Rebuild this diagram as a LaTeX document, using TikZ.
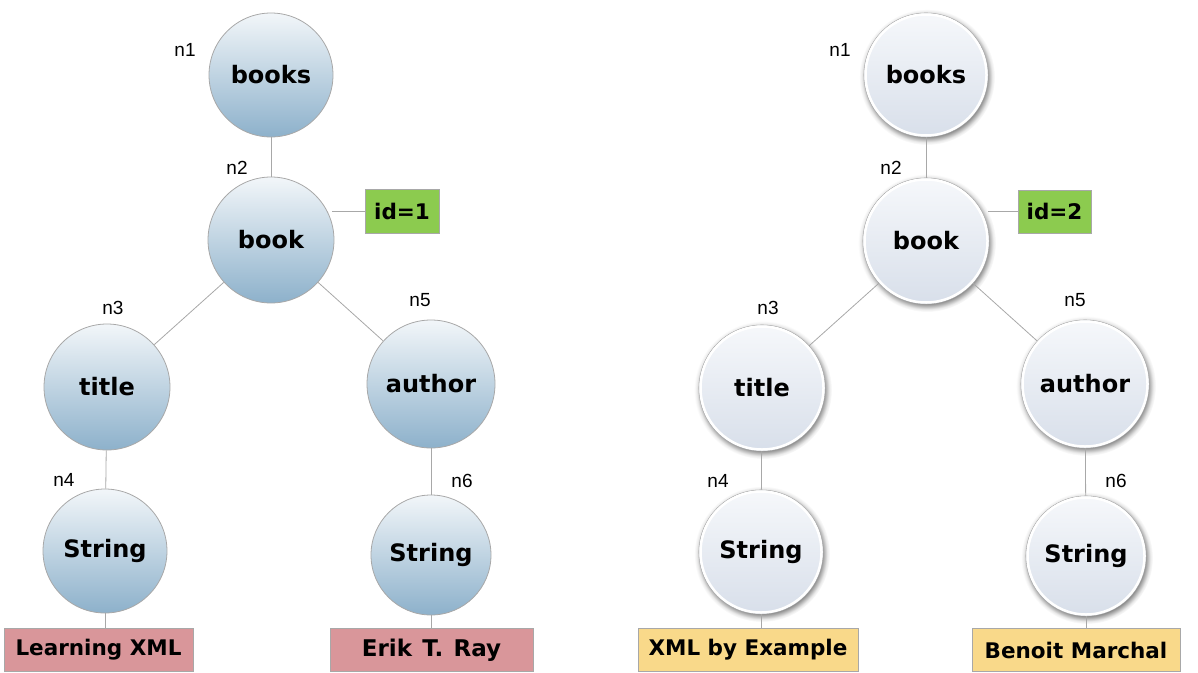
\documentclass[tikz,border=0pt]{standalone}
\usepackage{fontspec}
\setmainfont{DejaVu Sans}
\newfontfamily\lblfont{Liberation Sans}
\usetikzlibrary{shadings}
\definecolor{edgegray}{HTML}{A8A8A8}
\definecolor{blueA}{HTML}{F2F6F9}
\definecolor{blueB}{HTML}{8DB1CB}
\definecolor{paleA}{HTML}{F6F8FB}
\definecolor{paleC}{HTML}{D8DFEA}
\definecolor{greenbox}{HTML}{8CCB4F}
\definecolor{pinkbox}{HTML}{D9969A}
\definecolor{yellowbox}{HTML}{F9D98A}
\pgfdeclareradialshading{glowshade}{\pgfpoint{0bp}{0bp}}{%
  color(0bp)=(black!60); color(21bp)=(black!60); color(22.5bp)=(black!35);
  color(24bp)=(black!8); color(25bp)=(white); color(50bp)=(white)}
\tikzset{
  bluenode/.style={circle, draw=edgegray, line width=0.8pt, top color=blueA, bottom color=blueB,
    font=\fontsize{24}{27}\selectfont\bfseries, inner sep=0pt},
  whitenode/.style={circle, draw=black!35, line width=0.6pt, top color=paleA, bottom color=paleC,
    font=\fontsize{24}{27}\selectfont\bfseries, inner sep=0pt},
  rimnode/.style={circle, draw=white, line width=2.5pt, inner sep=0pt},
  glow/.style={circle, shading=glowshade, inner sep=0pt},
  valbox/.style={draw=edgegray, line width=0.6pt, font=\fontsize{21.5}{25}\selectfont\bfseries,
    inner sep=0pt, anchor=center},
  lbl/.style={font=\lblfont\fontsize{19}{21}\selectfont},
  conn/.style={draw=edgegray, line width=0.8pt}
}
\begin{document}
\begin{tikzpicture}[x=1pt,y=-1pt]
\useasboundingbox (0,0) rectangle (1198,672);
% ---------- left tree ----------
\node[bluenode, minimum size=124] (L1) at (271,75) {books};
\node[bluenode, minimum size=126] (L2) at (271,240) {book};
\node[bluenode, minimum size=126] (L3) at (107,387) {title};
\node[bluenode, minimum size=128] (L5) at (431,384) {author};
\node[bluenode, minimum size=124] (L4) at (105,551) {String};
\node[bluenode, minimum size=120] (L6) at (431,555) {String};
\node[valbox, fill=greenbox, minimum width=74, minimum height=44] (Lid) at (402,211) {id=1};
\node[valbox, fill=pinkbox, minimum width=189, minimum height=43] (Lv1) at (98.5,650) {Learning XML};
\node[valbox, fill=pinkbox, minimum width=203, minimum height=43, font=\fontsize{23}{25}\selectfont\bfseries] (Lv2) at (431.5,650) {Erik\hspace{0.45em}T.\hspace{0.45em}Ray};
\draw[conn] (L1) -- (L2);
\draw[conn] (L2) -- (L3);
\draw[conn] (L2) -- (L5);
\draw[conn] (L3) -- (L4);
\draw[conn] (L5) -- (L6);
\draw[conn] (L2.east |- Lid.west) ++(-2,0) coordinate (Lida) (Lida) -- (Lid.west);
\draw[conn] (L4) -- (L4 |- Lv1.north);
\draw[conn] (L6) -- (L6 |- Lv2.north);
\node[lbl] (ln1) at (185,50) {n1};
\node[lbl] (ln2) at (237,168) {n2};
\node[lbl] (ln3) at (113,308) {n3};
\node[lbl] (ln5) at (420,300) {n5};
\node[lbl] (ln4) at (64,480) {n4};
\node[lbl] (ln6) at (462,481) {n6};
% ---------- right tree ----------
\node[glow, minimum size=136] (G1) at (927,77) {};
\node[glow, minimum size=138] (G2) at (927,243) {};
\node[glow, minimum size=138] (G3) at (763,390) {};
\node[glow, minimum size=140] (G5) at (1086,386) {};
\node[glow, minimum size=136] (G4) at (762,554) {};
\node[glow, minimum size=132] (G6) at (1087,558) {};
\node[whitenode, minimum size=124] (R1) at (926,75) {books};
\node[whitenode, minimum size=126] (R2) at (926,241) {book};
\node[whitenode, minimum size=126] (R3) at (762,388) {title};
\node[whitenode, minimum size=128] (R5) at (1085,384) {author};
\node[whitenode, minimum size=124] (R4) at (761,552) {String};
\node[whitenode, minimum size=120] (R6) at (1086,556) {String};
\foreach \n/\s in {R1/121, R2/123, R3/123, R5/125, R4/121, R6/117}
  \node[rimnode, minimum size=\s] at (\n.center) {};
\node[valbox, fill=greenbox, minimum width=73, minimum height=43] (Rid) at (1054.5,211.5) {id=2};
\node[valbox, fill=yellowbox, minimum width=220, minimum height=43] (Rv1) at (748,650) {XML by Example};
\node[valbox, fill=yellowbox, minimum width=208, minimum height=43] (Rv2) at (1076,650) {Benoit Marchal};
\draw[conn] (R1) -- (R2);
\draw[conn] (R2) -- (R3);
\draw[conn] (R2) -- (R5);
\draw[conn] (R3) -- (R4);
\draw[conn] (R5) -- (R6);
\draw[conn] (R2.east |- Rid.west) ++(-1,0) coordinate (Rida) (Rida) -- (Rid.west);
\draw[conn] (R4) -- (R4 |- Rv1.north);
\draw[conn] (R6) -- (R6 |- Rv2.north);
\node[lbl] (rn1) at (840,50) {n1};
\node[lbl] (rn2) at (891,168) {n2};
\node[lbl] (rn3) at (768,308) {n3};
\node[lbl] (rn5) at (1075,300) {n5};
\node[lbl] (rn4) at (718,481) {n4};
\node[lbl] (rn6) at (1116,481) {n6};
\end{tikzpicture}
\end{document}
